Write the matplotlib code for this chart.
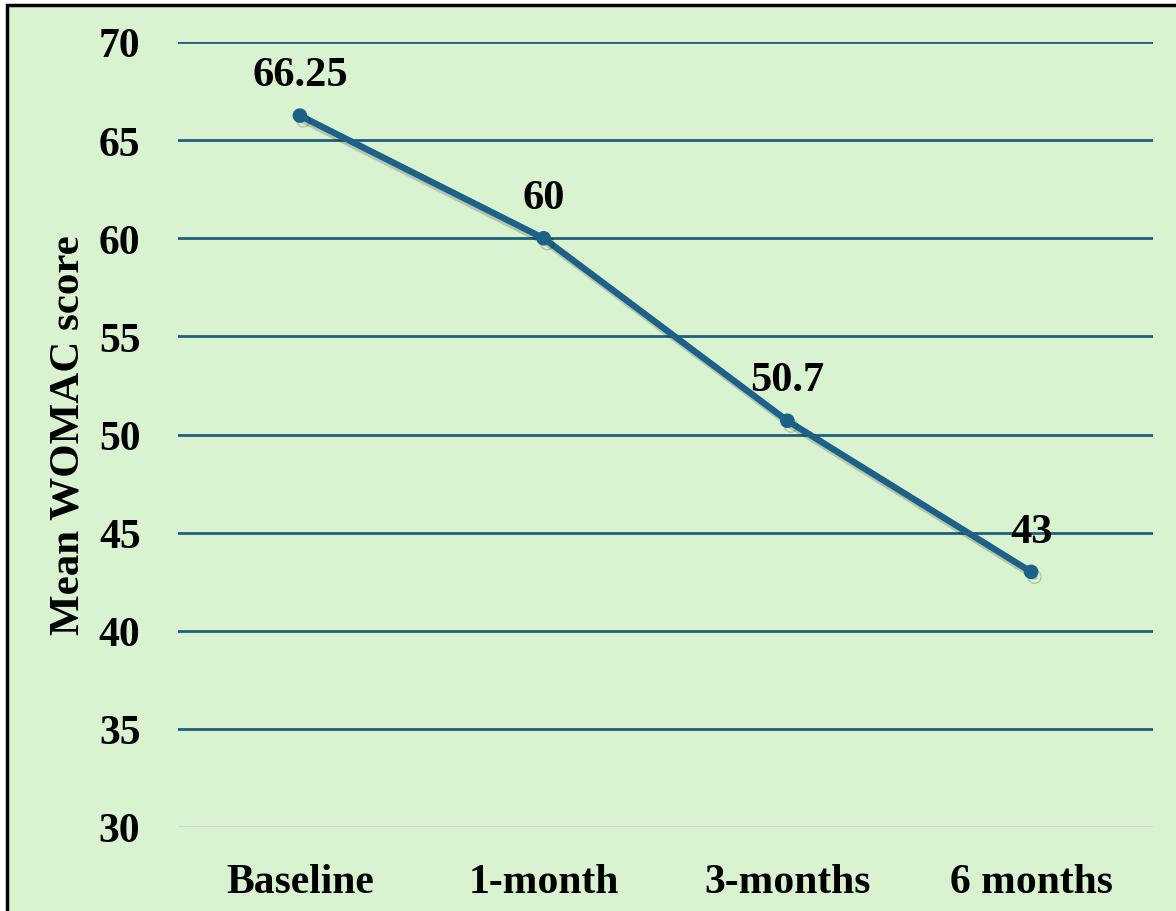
import matplotlib
matplotlib.use("Agg")
import matplotlib.pyplot as plt
import matplotlib.patheffects as pe
from matplotlib.patches import Rectangle

# Mean WOMAC score over follow-up
timepoints = ["Baseline", "1-month", "3-months", "6 months"]
womac_mean = [66.25, 60, 50.7, 43]
value_labels = ["66.25", "60", "50.7", "43"]
y_ticks = [30, 35, 40, 45, 50, 55, 60, 65, 70]

plt.rcParams["font.family"] = ["Liberation Serif", "DejaVu Serif"]
plt.rcParams["font.weight"] = "bold"

bg = "#d9f2d0"
line_color = "#1d6088"
grid_color = "#1f5f7c"

fig = plt.figure(figsize=(11.76, 9.12), dpi=100)
fig.patch.set_facecolor("white")

# green panel with black frame on the left and top edges
fig.patches.append(Rectangle((7 / 1176, -0.05), 1.1, 1 - 6 / 912 + 0.05,
                             transform=fig.transFigure, facecolor=bg,
                             edgecolor="black", linewidth=2.5, zorder=-5))

ax = fig.add_axes([178 / 1176, 84 / 912, 975 / 1176, 785 / 912])
ax.set_facecolor("none")

x = list(range(len(timepoints)))
ax.plot(x, womac_mean, color=line_color, linewidth=4.6, marker="o",
        markersize=9.5, solid_capstyle="round", zorder=3,
        path_effects=[pe.SimpleLineShadow(offset=(2.5, -3.5), shadow_color="black",
                                          alpha=0.18, rho=0.4),
                      pe.Normal()])

for xi, yi, lbl in zip(x, womac_mean, value_labels):
    ax.annotate(lbl, (xi, yi), xytext=(0, 29), textcoords="offset points",
                ha="center", va="center", fontsize=30.5, fontweight="bold",
                color="black", zorder=4)

ax.set_xlim(-0.5, len(timepoints) - 0.5)
ax.set_ylim(30, 70)
ax.set_yticks(y_ticks)
ax.set_xticks(x)
ax.set_xticklabels(timepoints)

for yv in y_ticks:
    ax.axhline(yv, color="#d4d4d4" if yv == 30 else grid_color,
               linewidth=2.0, zorder=1)

for side in ax.spines.values():
    side.set_visible(False)

ax.tick_params(axis="both", length=0, labelsize=30)
ax.tick_params(axis="y", pad=27)
ax.tick_params(axis="x", pad=26)
for t in ax.get_xticklabels() + ax.get_yticklabels():
    t.set_fontweight("bold")

ax.set_ylabel("Mean WOMAC score", fontsize=31, fontweight="bold", labelpad=8)

fig.savefig("out.png", dpi=100, facecolor=fig.get_facecolor())
